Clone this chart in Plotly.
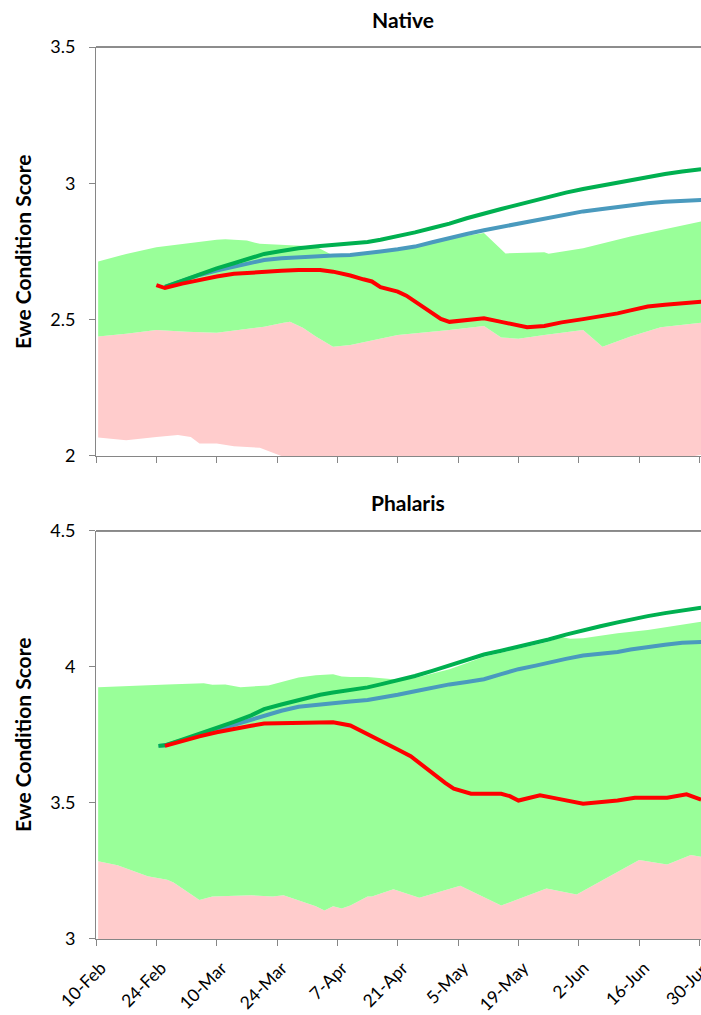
import plotly.graph_objects as go

# ---------------- data ----------------
tick_dates = ["2011-02-10", "2011-02-24", "2011-03-10", "2011-03-24", "2011-04-07",
              "2011-04-21", "2011-05-05", "2011-05-19", "2011-06-02", "2011-06-16", "2011-06-30"]

# Native: band boundaries
nat_pink_lo_x = ["2011-02-10 12:00", "2011-02-17", "2011-02-24", "2011-03-01", "2011-03-04", "2011-03-06",
                 "2011-03-10", "2011-03-14", "2011-03-20", "2011-03-25", "2011-04-11", "2011-06-10",
                 "2011-06-26", "2011-06-30 09:00"]
nat_pink_lo_y = [2.068, 2.058, 2.070, 2.077, 2.070, 2.046, 2.046, 2.036, 2.030, 2.000, 1.98, 1.98,
                 1.99, 2.005]

nat_pink_hi_x = ["2011-02-10 12:00", "2011-02-17", "2011-02-24", "2011-02-28", "2011-03-03", "2011-03-10",
                 "2011-03-15", "2011-03-21", "2011-03-25 12:00", "2011-03-27", "2011-03-30", "2011-04-02",
                 "2011-04-06", "2011-04-10", "2011-04-21", "2011-05-03", "2011-05-11", "2011-05-15",
                 "2011-05-19", "2011-05-25", "2011-06-03", "2011-06-07 12:00", "2011-06-14", "2011-06-21",
                 "2011-06-30 09:00"]
nat_pink_hi_y = [2.438, 2.448, 2.462, 2.460, 2.456, 2.452, 2.462, 2.474, 2.489, 2.492, 2.470, 2.438,
                 2.401, 2.407, 2.444, 2.462, 2.477, 2.435, 2.430, 2.444, 2.462, 2.401, 2.438, 2.472,
                 2.489]

nat_green_hi_x = ["2011-02-10 12:00", "2011-02-17", "2011-02-24", "2011-03-03", "2011-03-10", "2011-03-12",
                  "2011-03-17", "2011-03-20", "2011-03-26", "2011-04-02", "2011-04-06", "2011-04-10",
                  "2011-04-18", "2011-04-25", "2011-05-03", "2011-05-11", "2011-05-16", "2011-05-25",
                  "2011-05-26", "2011-06-03", "2011-06-14", "2011-06-30 09:00"]
nat_green_hi_y = [2.713, 2.741, 2.766, 2.780, 2.793, 2.795, 2.790, 2.778, 2.774, 2.768, 2.735, 2.737,
                  2.748, 2.766, 2.798, 2.818, 2.743, 2.747, 2.742, 2.762, 2.805, 2.860]

# Native: lines
nat_line_x = ["2011-02-26", "2011-03-02", "2011-03-06", "2011-03-10", "2011-03-14", "2011-03-18",
              "2011-03-21", "2011-03-25", "2011-03-29", "2011-04-03", "2011-04-06", "2011-04-10",
              "2011-04-14", "2011-04-17", "2011-04-21", "2011-04-25", "2011-04-29", "2011-05-03",
              "2011-05-07", "2011-05-11", "2011-05-15", "2011-05-19", "2011-05-23", "2011-05-26",
              "2011-05-30", "2011-06-03", "2011-06-07", "2011-06-11", "2011-06-14", "2011-06-18",
              "2011-06-22", "2011-06-26", "2011-06-30 09:00"]
nat_green_line = [2.620, 2.643, 2.668, 2.688, 2.707, 2.725, 2.741, 2.752, 2.762, 2.770, 2.774, 2.780,
                  2.785, 2.793, 2.806, 2.820, 2.836, 2.852, 2.872, 2.890, 2.906, 2.922, 2.938, 2.952,
                  2.966, 2.979, 2.991, 3.003, 3.013, 3.025, 3.034, 3.043, 3.052]
nat_blue_line = [2.620, 2.642, 2.664, 2.680, 2.695, 2.708, 2.719, 2.725, 2.729, 2.733, 2.735, 2.737,
                 2.743, 2.750, 2.758, 2.768, 2.784, 2.800, 2.814, 2.828, 2.840, 2.852, 2.864, 2.876,
                 2.887, 2.897, 2.905, 2.913, 2.920, 2.927, 2.932, 2.937, 2.939]

nat_red_x = ["2011-02-24", "2011-02-26", "2011-03-02", "2011-03-06", "2011-03-10", "2011-03-14",
             "2011-03-18", "2011-03-21", "2011-03-25", "2011-03-29", "2011-04-03", "2011-04-06",
             "2011-04-08", "2011-04-10", "2011-04-13", "2011-04-15", "2011-04-17", "2011-04-21",
             "2011-04-23", "2011-04-25", "2011-04-27", "2011-04-29", "2011-05-01", "2011-05-03",
             "2011-05-07", "2011-05-11", "2011-05-15", "2011-05-18", "2011-05-21", "2011-05-25",
             "2011-05-29", "2011-06-03", "2011-06-07", "2011-06-11", "2011-06-14", "2011-06-18",
             "2011-06-22", "2011-06-26", "2011-06-30 09:00"]
nat_red_y = [2.627, 2.616, 2.632, 2.646, 2.658, 2.668, 2.673, 2.676, 2.679, 2.682, 2.682, 2.676,
             2.670, 2.662, 2.648, 2.640, 2.619, 2.603, 2.588, 2.566, 2.545, 2.523, 2.503, 2.492,
             2.500, 2.505, 2.492, 2.482, 2.472, 2.477, 2.490, 2.502, 2.512, 2.523, 2.534, 2.548,
             2.555, 2.560, 2.566]

# Phalaris: band boundaries
pha_pink_hi_x = ["2011-02-10 12:00", "2011-02-15", "2011-02-22", "2011-02-26 12:00", "2011-02-28",
                 "2011-03-06", "2011-03-09", "2011-03-18", "2011-03-23", "2011-03-25 12:00", "2011-04-02",
                 "2011-04-04", "2011-04-06", "2011-04-08", "2011-04-10", "2011-04-14", "2011-04-15",
                 "2011-04-20", "2011-04-26", "2011-05-05 12:00", "2011-05-15", "2011-05-25 12:00",
                 "2011-06-01 12:00", "2011-06-16", "2011-06-22 12:00", "2011-06-28", "2011-06-30 09:00"]
pha_pink_hi_y = [3.286, 3.271, 3.231, 3.218, 3.208, 3.143, 3.156, 3.161, 3.156, 3.161, 3.120,
                 3.105, 3.120, 3.112, 3.123, 3.156, 3.156, 3.183, 3.152, 3.196, 3.123, 3.186,
                 3.164, 3.290, 3.274, 3.309, 3.302]

pha_green_hi_x = ["2011-02-10 12:00", "2011-02-19", "2011-02-26 12:00", "2011-03-07", "2011-03-09",
                  "2011-03-12", "2011-03-15 12:00", "2011-03-22", "2011-03-29", "2011-04-02", "2011-04-06",
                  "2011-04-08", "2011-04-10", "2011-04-14", "2011-04-20", "2011-04-25", "2011-05-03",
                  "2011-05-11", "2011-05-19", "2011-05-26", "2011-05-29", "2011-05-31", "2011-06-03",
                  "2011-06-11", "2011-06-18", "2011-06-30 09:00"]
pha_green_hi_y = [3.926, 3.932, 3.936, 3.940, 3.935, 3.936, 3.926, 3.932, 3.961, 3.970, 3.973,
                  3.965, 3.963, 3.963, 3.955, 3.960, 3.992, 4.038, 4.066, 4.093, 4.110, 4.104,
                  4.106, 4.124, 4.136, 4.166]

# Phalaris: lines
pha_line_x = ["2011-02-24 12:00", "2011-02-26", "2011-03-02", "2011-03-06", "2011-03-10", "2011-03-14",
              "2011-03-18", "2011-03-21", "2011-03-25", "2011-03-29", "2011-04-03", "2011-04-06",
              "2011-04-10", "2011-04-14", "2011-04-17", "2011-04-21", "2011-04-25", "2011-04-29",
              "2011-05-03", "2011-05-07", "2011-05-11", "2011-05-15", "2011-05-19", "2011-05-23",
              "2011-05-26", "2011-05-30", "2011-06-03", "2011-06-07", "2011-06-11", "2011-06-14",
              "2011-06-18", "2011-06-22", "2011-06-26", "2011-06-30 09:00"]
pha_green_line = [3.710, 3.712, 3.733, 3.754, 3.776, 3.798, 3.822, 3.845, 3.862, 3.879, 3.898, 3.906,
                  3.915, 3.925, 3.936, 3.951, 3.967, 3.986, 4.005, 4.026, 4.046, 4.060, 4.074, 4.088,
                  4.101, 4.119, 4.136, 4.150, 4.164, 4.175, 4.187, 4.198, 4.209, 4.218]
pha_blue_line = [3.710, 3.712, 3.731, 3.750, 3.769, 3.788, 3.806, 3.823, 3.839, 3.854, 3.863, 3.868,
                 3.873, 3.879, 3.886, 3.898, 3.911, 3.924, 3.936, 3.945, 3.955, 3.974, 3.992, 4.005,
                 4.017, 4.030, 4.042, 4.049, 4.055, 4.064, 4.074, 4.082, 4.089, 4.092]

pha_red_x = ["2011-02-26", "2011-03-02", "2011-03-06", "2011-03-10", "2011-03-14", "2011-03-18",
             "2011-03-21", "2011-03-25", "2011-03-29", "2011-04-03", "2011-04-06", "2011-04-10",
             "2011-04-14", "2011-04-17", "2011-04-21", "2011-04-24", "2011-04-26", "2011-04-28",
             "2011-04-30", "2011-05-02", "2011-05-04", "2011-05-08", "2011-05-15", "2011-05-17",
             "2011-05-19", "2011-05-24", "2011-05-28", "2011-06-03", "2011-06-11", "2011-06-15",
             "2011-06-22 12:00", "2011-06-27", "2011-06-30 09:00"]
pha_red_y = [3.710, 3.728, 3.745, 3.760, 3.773, 3.784, 3.792, 3.794, 3.795, 3.797, 3.797, 3.785,
             3.754, 3.729, 3.697, 3.672, 3.647, 3.622, 3.596, 3.574, 3.553, 3.534, 3.534, 3.525,
             3.509, 3.528, 3.516, 3.497, 3.509, 3.519, 3.519, 3.532, 3.512]

# ---------------- styles ----------------
PINK = "#FFCCCC"
LGREEN = "#99FF99"
GREEN = "#00B050"
BLUE = "#4A9ABE"
RED = "#FF0000"
AXIS = "#868686"
FONT = "Lato"
LW = 4

fig = go.Figure()

# Native areas
fig.add_trace(go.Scatter(x=nat_pink_lo_x, y=nat_pink_lo_y, mode="lines", line=dict(width=0),
                         hoverinfo="skip", xaxis="x", yaxis="y"))
fig.add_trace(go.Scatter(x=nat_pink_hi_x, y=nat_pink_hi_y, mode="lines", line=dict(width=0),
                         fill="tonexty", fillcolor=PINK, hoverinfo="skip", xaxis="x", yaxis="y"))
fig.add_trace(go.Scatter(x=nat_green_hi_x, y=nat_green_hi_y, mode="lines", line=dict(width=0),
                         fill="tonexty", fillcolor=LGREEN, hoverinfo="skip", xaxis="x", yaxis="y"))
# Native lines
fig.add_trace(go.Scatter(x=nat_line_x, y=nat_blue_line, mode="lines", line=dict(color=BLUE, width=LW),
                         xaxis="x", yaxis="y"))
fig.add_trace(go.Scatter(x=nat_line_x, y=nat_green_line, mode="lines", line=dict(color=GREEN, width=LW),
                         xaxis="x", yaxis="y"))
fig.add_trace(go.Scatter(x=nat_red_x, y=nat_red_y, mode="lines", line=dict(color=RED, width=LW),
                         xaxis="x", yaxis="y"))

# Phalaris areas
fig.add_trace(go.Scatter(x=pha_pink_hi_x, y=pha_pink_hi_y, mode="lines", line=dict(width=0),
                         fill="tozeroy", fillcolor=PINK, hoverinfo="skip", xaxis="x2", yaxis="y2"))
fig.add_trace(go.Scatter(x=pha_green_hi_x, y=pha_green_hi_y, mode="lines", line=dict(width=0),
                         fill="tonexty", fillcolor=LGREEN, hoverinfo="skip", xaxis="x2", yaxis="y2"))
# Phalaris lines
fig.add_trace(go.Scatter(x=pha_line_x, y=pha_blue_line, mode="lines", line=dict(color=BLUE, width=LW),
                         xaxis="x2", yaxis="y2"))
fig.add_trace(go.Scatter(x=pha_line_x, y=pha_green_line, mode="lines", line=dict(color=GREEN, width=LW),
                         xaxis="x2", yaxis="y2"))
fig.add_trace(go.Scatter(x=pha_red_x, y=pha_red_y, mode="lines", line=dict(color=RED, width=LW),
                         xaxis="x2", yaxis="y2"))

xrange = ["2011-02-10", "2011-06-30 08:24"]
xcommon = dict(type="date", range=xrange, tickvals=tick_dates, tickformat="%-d-%b",
               ticks="outside", ticklen=6, tickcolor=AXIS, showline=True, linecolor=AXIS,
               linewidth=1, showgrid=False, zeroline=False, automargin=False,
               tickfont=dict(family=FONT, size=17.5, color="#000"))
ycommon = dict(dtick=0.5, ticks="outside", ticklen=6, tickcolor=AXIS, showline=True,
               linecolor=AXIS, linewidth=1, showgrid=False, zeroline=False, automargin=False,
               tickfont=dict(family=FONT, size=18, color="#000"), ticklabelstandoff=10)

fig.update_layout(
    width=701, height=1015,
    margin=dict(l=96, r=0, t=47, b=76, autoexpand=False),
    paper_bgcolor="white", plot_bgcolor="white",
    showlegend=False,
    xaxis=dict(xcommon, anchor="y", showticklabels=False),
    yaxis=dict(ycommon, anchor="x", domain=[0.5415, 1], range=[2, 3.5], tick0=2),
    xaxis2=dict(xcommon, anchor="y2", showticklabels=True, tickangle=-45, ticklabelstandoff=5,
                ticklabelshift=5, ticklabeloverflow="allow"),
    yaxis2=dict(ycommon, anchor="x2", domain=[0, 0.4574], range=[3, 4.5], tick0=3),
    shapes=[
        dict(type="line", xref="x domain", yref="y domain", x0=0, x1=1, y0=1, y1=1,
             line=dict(color="#1a1a1a", width=1)),
        dict(type="line", xref="x2 domain", yref="y2 domain", x0=0, x1=1, y0=1, y1=1,
             line=dict(color="#1a1a1a", width=1)),
    ],
    annotations=[
        dict(text="<b>Native</b>", xref="paper", yref="paper", x=(403 - 96) / 605, y=(939 - 20) / 892,
             xanchor="center", yanchor="middle", showarrow=False,
             font=dict(family=FONT, size=21, color="#000")),
        dict(text="<b>Phalaris</b>", xref="paper", yref="paper", x=(408 - 96) / 605, y=(939 - 503) / 892,
             xanchor="center", yanchor="middle", showarrow=False,
             font=dict(family=FONT, size=21, color="#000")),
        dict(text="<b>Ewe Condition Score</b>", xref="paper", yref="paper", x=(22 - 96) / 605,
             y=(939 - 252) / 892, xanchor="center", yanchor="middle", textangle=-90, showarrow=False,
             font=dict(family=FONT, size=21, color="#000")),
        dict(text="<b>Ewe Condition Score</b>", xref="paper", yref="paper", x=(22 - 96) / 605,
             y=(939 - 735) / 892, xanchor="center", yanchor="middle", textangle=-90, showarrow=False,
             font=dict(family=FONT, size=21, color="#000")),
    ],
)

fig.write_html("out.html", config={"displayModeBar": False},
               post_script="document.body.style.margin='0';document.body.style.overflow='hidden';")
